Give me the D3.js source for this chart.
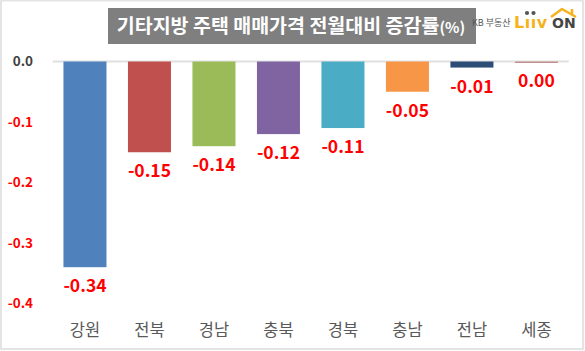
<!DOCTYPE html>
<html>
<head>
<meta charset="utf-8">
<script src="https://cdn.jsdelivr.net/npm/d3@7"></script>
<style>
  html, body { margin: 0; padding: 0; background: #fff; }
  svg { display: block; }
</style>
</head>
<body>
<svg id="chart" width="585" height="351"></svg>
<script>
// 기타지방 주택 매매가격 전월대비 증감률
const categories = ["강원", "전북", "경남", "충북", "경북", "충남", "전남", "세종"];
const values = [-0.34, -0.15, -0.14, -0.12, -0.11, -0.05, -0.01, 0.00];
const barColors = ["#4F81BD", "#C0504D", "#9BBB59", "#8064A2", "#4BACC6", "#F79646", "#2C4D75", "#C4908E"];
const yTicks = [0, -0.1, -0.2, -0.3, -0.4];

(function renderBarChart() {
  const svg = d3.select("#chart"),
    width = +svg.attr("width"),
    height = +svg.attr("height");

  const korFont = "'Noto Sans CJK KR', 'Noto Sans', sans-serif";

  // frame
  svg.append("rect")
    .attr("x", 1).attr("y", 0.5)
    .attr("width", width - 3).attr("height", height - 2.5)
    .attr("fill", "#fff")
    .attr("stroke", "#e4e4e4")
    .attr("stroke-width", 2);

  const x = d3.scaleBand()
    .domain(categories)
    .range([52.7, 568.7])
    .paddingInner(0.333)
    .paddingOuter(0.1667);

  const y = d3.scaleLinear().domain([0, -0.4]).range([61.5, 303.5]);

  // zero line
  svg.append("line")
    .attr("x1", 52.7).attr("x2", 568.7)
    .attr("y1", y(0)).attr("y2", y(0))
    .attr("stroke", "#e0e0e0")
    .attr("stroke-width", 2);

  // y axis labels
  const yAxis = svg.append("g")
    .attr("transform", "translate(33,0)")
    .call(d3.axisLeft(y).tickValues(yTicks).tickSize(0).tickPadding(0));
  yAxis.select(".domain").remove();
  yAxis.selectAll("text")
    .attr("font-family", korFont)
    .attr("font-size", 13.5)
    .attr("font-weight", "bold")
    .attr("fill", d => d === 0 ? "#404040" : "#FF0000")
    .text(d => d === 0 ? "0.0" : d.toFixed(1));

  const data = categories.map((c, i) => ({ label: c, value: values[i], color: barColors[i] }));

  svg.selectAll("rect.bar")
    .data(data)
    .enter()
    .append("rect")
    .attr("class", "bar")
    .attr("x", d => x(d.label))
    .attr("y", y(0))
    .attr("width", x.bandwidth())
    .attr("height", d => Math.max(1.5, y(d.value) - y(0)))
    .attr("fill", d => d.color);

  // value labels
  svg.selectAll("text.val")
    .data(data)
    .enter()
    .append("text")
    .attr("class", "val")
    .attr("x", d => x(d.label) + x.bandwidth() / 2)
    .attr("y", d => y(d.value) + 25)
    .attr("text-anchor", "middle")
    .attr("font-family", korFont)
    .attr("font-size", 17.5)
    .attr("font-weight", "bold")
    .attr("fill", "#FF0000")
    .text(d => d.value.toFixed(2));

  // category labels
  const xAxis = svg.append("g")
    .attr("transform", "translate(0,324)")
    .call(d3.axisBottom(x).tickSize(0).tickPadding(0));
  xAxis.select(".domain").remove();
  xAxis.selectAll("text")
    .attr("font-family", korFont)
    .attr("font-size", 16.5)
    .attr("fill", "#595959")
    .attr("dy", "0.75em");

  // title box
  svg.append("rect")
    .attr("x", 108).attr("y", 8)
    .attr("width", 368).attr("height", 36)
    .attr("fill", "#7F7F7F");
  const title = svg.append("text")
    .attr("x", 291).attr("y", 33)
    .attr("text-anchor", "middle")
    .attr("font-family", korFont)
    .attr("font-weight", "bold")
    .attr("fill", "#fff");
  title.append("tspan").attr("font-size", 19.5).text("기타지방 주택 매매가격 전월대비 증감률");
  title.append("tspan").attr("font-size", 15).text("(%)");

  // logo
  const logo = svg.append("g");
  logo.append("text")
    .attr("x", 472).attr("y", 26)
    .attr("font-family", korFont)
    .attr("font-size", 9)
    .attr("fill", "#555")
    .text("KB 부동산");
  logo.append("text")
    .attr("x", 514).attr("y", 28)
    .attr("font-family", "'DejaVu Sans', sans-serif")
    .attr("font-size", 16)
    .attr("font-weight", "bold")
    .attr("letter-spacing", 0.5)
    .attr("fill", "#F5B21B")
    .text("Lııv");
  logo.append("text")
    .attr("x", 552).attr("y", 28)
    .attr("font-family", "'DejaVu Sans', sans-serif")
    .attr("font-size", 14)
    .attr("font-weight", "bold")
    .attr("fill", "#444")
    .text("ON");
  [527, 533.5].forEach(cx => logo.append("circle").attr("cx", cx).attr("cy", 13).attr("r", 2.1).attr("fill", "#555"));
  logo.append("path")
    .attr("d", "M551,17 L562,9 L576,17 M572,14 L572,9")
    .attr("fill", "none")
    .attr("stroke", "#F5B21B")
    .attr("stroke-width", 2.5)
    .attr("stroke-linejoin", "round");
})();
</script>
</body>
</html>
